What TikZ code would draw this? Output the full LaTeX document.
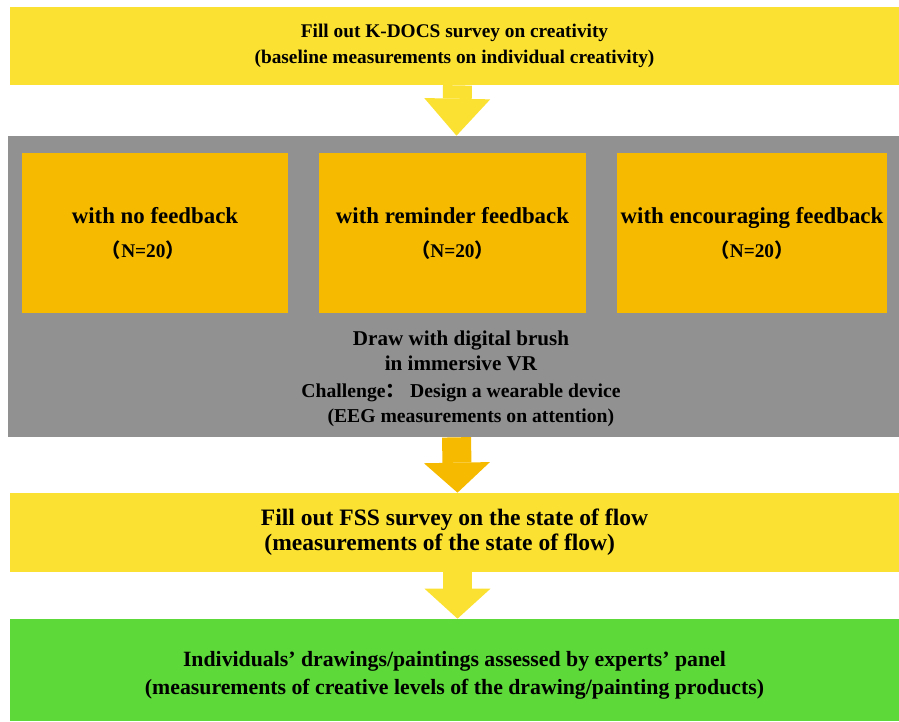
\documentclass[tikz,border=0pt]{standalone}
\usepackage{fontspec}
\setmainfont{Liberation Serif}
\newfontfamily\cjk{Noto Sans CJK SC}
\usetikzlibrary{arrows.meta}
\definecolor{flowyellow}{RGB}{251,225,50}
\definecolor{grouporange}{RGB}{246,187,0}
\definecolor{sessiongray}{RGB}{145,145,145}
\definecolor{panelgreen}{RGB}{93,217,57}

\begin{document}
\begin{tikzpicture}[x=0.02cm, y=-0.02cm,
    band/.style={rectangle, inner sep=0pt, minimum width=17.78cm, align=center},
    groupbox/.style={rectangle, fill=grouporange, inner sep=0pt, minimum height=3.2cm, align=center,
      font=\bfseries\fontsize{13}{19.3}\selectfont},
    blockarrow/.style={line width=0.58cm, -{Triangle[length=#1, width=1.32cm, line width=0pt]}}]
    \useasboundingbox (0,0) rectangle (899,721);

    % Encuesta inicial
    \node[band, fill=flowyellow, minimum height=1.56cm, font=\bfseries\fontsize{11}{14.5}\selectfont] (survey) at (454.5,46)
        {Fill out K-DOCS survey on creativity\\(baseline measurements on individual creativity)};

    % Sesion en VR
    \node[rectangle, fill=sessiongray, inner sep=0pt, minimum width=17.82cm, minimum height=6.02cm] (session) at (453.5,286.5) {};

    % Grupos
    \node[groupbox, minimum width=5.32cm] (nofb) at (155,233)
        {with no feedback\\{\fontsize{11}{13}\selectfont\hspace*{-1.2em}{\cjk （}N=20{\cjk ）}}};
    \node[groupbox, minimum width=5.34cm] (reminder) at (452.5,233)
        {with reminder feedback\\{\fontsize{11}{13}\selectfont{\cjk （}N=20{\cjk ）}}};
    \node[groupbox, minimum width=5.4cm] (encourage) at (752,233)
        {with encouraging feedback\\{\fontsize{11}{13}\selectfont{\cjk （}N=20{\cjk ）}}};

    % Tarea
    \node[align=center, font=\bfseries\fontsize{12}{14.2}\selectfont] (task) at (461,350.5)
        {Draw with digital brush\\in immersive VR};
    \node[align=center, font=\bfseries\fontsize{11.2}{14.2}\selectfont] (challenge) at (461,405.5)
        {Challenge{\cjk ：} Design a wearable device\\\hspace*{1em}(EEG measurements on attention)};

    % Encuesta de flujo
    \node[band, fill=flowyellow, minimum height=1.58cm, align=left, font=\bfseries\fontsize{13.4}{14}\selectfont] (flow) at (454.5,532.5)
        {Fill out FSS survey on the state of flow\\\hspace*{2pt}(measurements of the state of flow)};

    % Evaluacion de expertos
    \node[band, fill=panelgreen, minimum height=2.04cm, text height=1.08cm, font=\bfseries\fontsize{12.4}{16}\selectfont] (panel) at (454.5,670)
        {Individuals' drawings/paintings assessed by experts' panel\\(measurements of creative levels of the drawing/painting products)};

    % Flechas
    \draw[blockarrow=0.74cm, flowyellow] ([xshift=0.06cm]survey.south) -- ([xshift=0.06cm]session.north);
    \draw[blockarrow=0.6cm, grouporange] ([xshift=0.06cm]session.south) -- ([xshift=0.06cm]flow.north);
    \draw[blockarrow=0.6cm, flowyellow] ([xshift=0.06cm]flow.south) -- ([xshift=0.06cm]panel.north);
\end{tikzpicture}
\end{document}
